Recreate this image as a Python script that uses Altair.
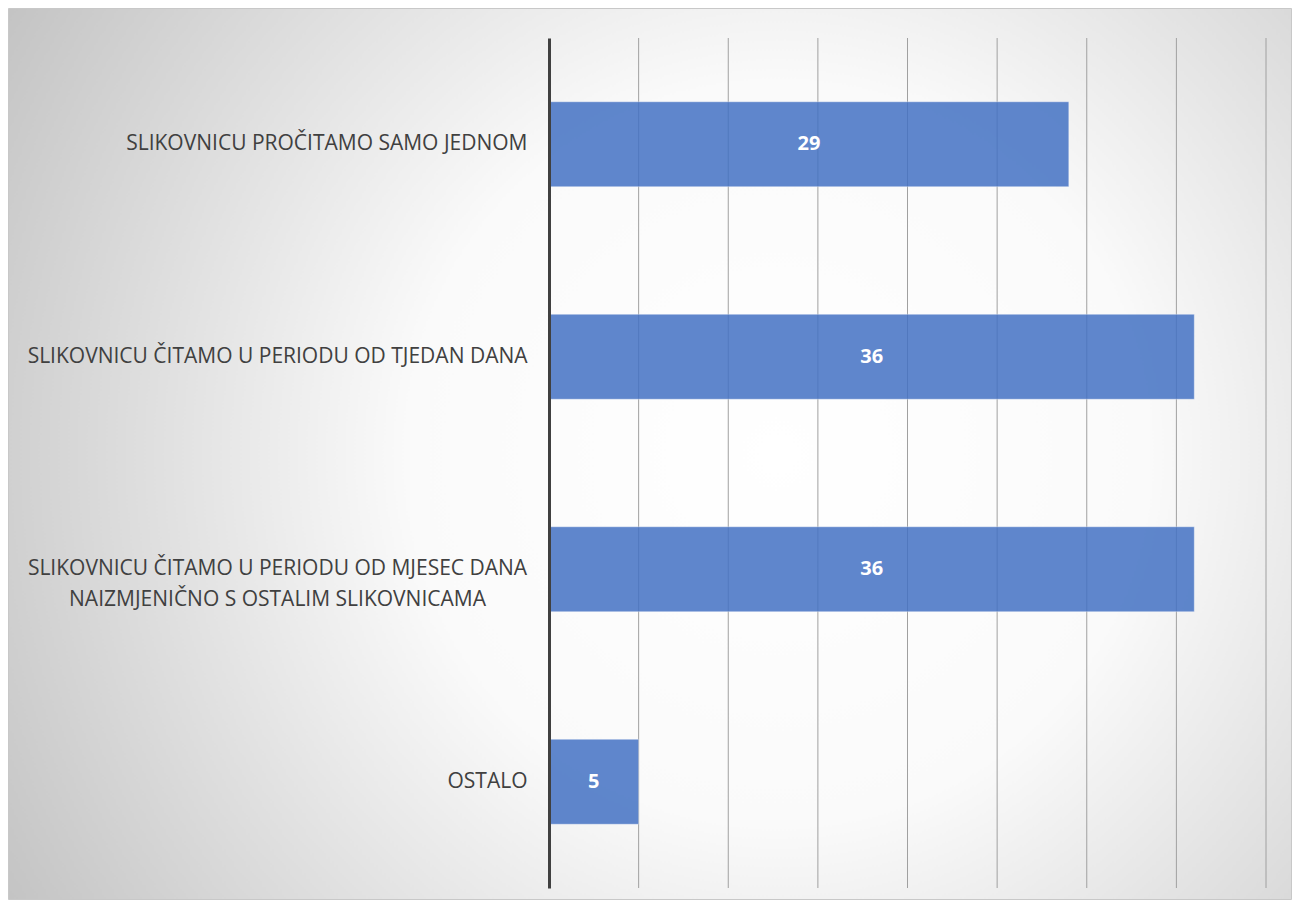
import altair as alt
import pandas as pd

categories = [
    "SLIKOVNICU PROČITAMO SAMO JEDNOM",
    "SLIKOVNICU ČITAMO U PERIODU OD TJEDAN DANA",
    "SLIKOVNICU ČITAMO U PERIODU OD MJESEC DANA|NAIZMJENIČNO S OSTALIM SLIKOVNICAMA",
    "OSTALO",
]
values = [29, 36, 36, 5]
grid_values = [5, 10, 15, 20, 25, 30, 35, 40]

W, H = 717, 850
PL, PT, PR, PB = 541, 30, 26, 12

df = pd.DataFrame({"category": categories, "value": values})
grid_df = pd.DataFrame({"g": grid_values})
bg_df = pd.DataFrame({"a": [0]})

xscale = alt.Scale(domain=[0, 40], nice=False, zero=True)

gradient = {
    "gradient": "radial",
    "x1": 0.6, "y1": 0.5, "r1": 0,
    "x2": 0.6, "y2": 0.5, "r2": 0.72,
    "stops": [
        {"offset": 0, "color": "#ffffff"},
        {"offset": 0.4, "color": "#fafafa"},
        {"offset": 1, "color": "#c0c0c0"},
    ],
}

bg = alt.Chart(bg_df).mark_rect(fill=gradient, stroke="#c8c8c8", strokeWidth=1).encode(
    x=alt.value(-PL + 0.5), x2=alt.value(W + PR - 0.5),
    y=alt.value(-PT + 0.5), y2=alt.value(H + PB - 0.5),
)

grid = alt.Chart(grid_df).mark_rule(color="#a0a0a0", strokeWidth=1).encode(
    x=alt.X("g:Q", scale=xscale, axis=None),
    y=alt.value(0), y2=alt.value(H),
)

multi_test = "length(datum.value) > 60"

yenc = alt.Y(
    "category:N",
    sort=categories,
    scale=alt.Scale(paddingInner=0.6, paddingOuter=0.3),
    axis=alt.Axis(
        title=None,
        ticks=False,
        domain=True,
        domainColor="#404040",
        domainWidth=3,
        labelFont="Open Sans",
        labelFontSize=21,
        labelColor="#404040",
        labelAlign={"condition": {"test": multi_test, "value": "center"}, "value": "right"},
        labelPadding={"condition": {"test": multi_test, "value": 272}, "value": 22},
        labelLimit=0,
        labelLineHeight=31,
        labelExpr="split(datum.label, '|')",
        zindex=1,
    ),
)

bars = alt.Chart(df).mark_bar(
    color="#4472C4", opacity=0.85, stroke="#ffffff", strokeOpacity=0.4, strokeWidth=1
).encode(
    x=alt.X("value:Q", scale=xscale, axis=None),
    y=yenc,
)

labels = alt.Chart(df).transform_calculate(mid="datum.value / 2").mark_text(
    color="white", font="Open Sans", fontWeight="bold", fontSize=20, baseline="middle", align="center"
).encode(
    x=alt.X("mid:Q", scale=xscale, axis=None),
    y=alt.Y("category:N", sort=categories),
    text="value:Q",
)

chart = alt.layer(bg, grid, bars, labels).properties(
    width=W, height=H,
    padding={"left": PL, "top": PT, "right": PR, "bottom": PB},
    autosize="none",
).configure_view(stroke=None)

chart.save("out.html", embed_options={"renderer": "svg", "actions": False})
